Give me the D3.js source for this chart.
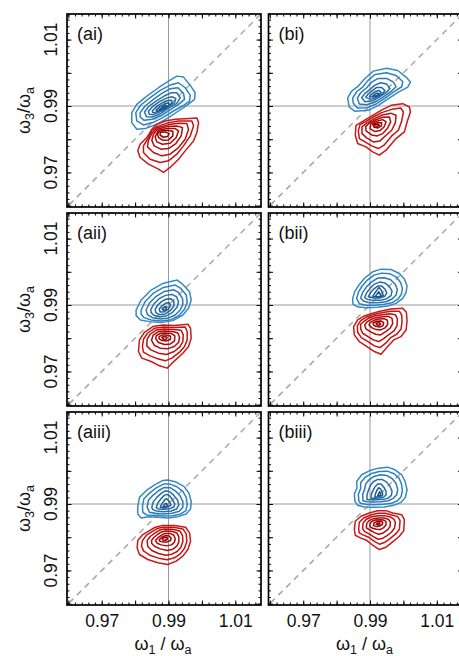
<!DOCTYPE html>
<html><head><meta charset="utf-8">
<script src="https://cdn.jsdelivr.net/npm/d3@7"></script>
<style>body{margin:0;background:#fff}svg{display:block}text{font-family:"Liberation Sans",Arial,Helvetica,sans-serif;fill:#111}</style>
</head><body><svg id="c" width="459" height="656"></svg>
<script>
// ---- data (ω / ωa) ----
const axisDomain = [0.9596, 1.0177];
const majorTicks = [0.96, 0.97, 0.98, 0.99, 1.00, 1.01];
const labelledTicks = [0.97, 0.99, 1.01];
const refLine = 0.99;
const panelLabels = ["(ai)", "(bi)", "(aii)", "(bii)", "(aiii)", "(biii)"];

const ai_blue = [
 [[.9790,.9880],[.9805,.9905],[.9835,.9930],[.9870,.9955],[.9900,.9975],[.9925,.9990],[.9945,.9987],[.9963,.9965],[.9980,.9940],[.9978,.9920],[.9955,.9902],[.9930,.9885],[.9900,.9865],[.9865,.9845],[.9830,.9832],[.9805,.9830],[.9790,.9850]],
 [[.9802,.9880],[.9817,.9903],[.9845,.9925],[.9875,.9947],[.9905,.9963],[.9930,.9970],[.9950,.9955],[.9965,.9933],[.9963,.9915],[.9942,.9900],[.9915,.9885],[.9888,.9868],[.9855,.9851],[.9825,.9843],[.9805,.9855]],
 [[.9815,.9880],[.9830,.9900],[.9855,.9920],[.9880,.9938],[.9905,.9952],[.9928,.9955],[.9945,.9938],[.9948,.9920],[.9930,.9905],[.9907,.9890],[.9882,.9873],[.9852,.9860],[.9827,.9857],[.9815,.9867]],
 [[.9828,.9882],[.9842,.9900],[.9865,.9916],[.9887,.9930],[.9908,.9940],[.9925,.9940],[.9935,.9925],[.9925,.9908],[.9903,.9895],[.9878,.9878],[.9852,.9867],[.9834,.9868]],
 [[.9840,.9884],[.9854,.9900],[.9873,.9913],[.9892,.9923],[.9910,.9928],[.9922,.9923],[.9918,.9910],[.9900,.9898],[.9877,.9883],[.9854,.9874],[.9842,.9875]],
 [[.9852,.9886],[.9865,.9899],[.9880,.9909],[.9895,.9916],[.9909,.9917],[.9910,.9908],[.9897,.9898],[.9877,.9887],[.9858,.9880],[.9852,.9881]],
 [[.9863,.9888],[.9874,.9898],[.9887,.9906],[.9900,.9910],[.9903,.9905],[.9895,.9897],[.9878,.9890],[.9865,.9885]],
 [[.9873,.9890],[.9882,.9897],[.9892,.9903],[.9895,.9898],[.9882,.9892],[.9874,.9888]]
];
const ai_red = [
 [[.9865,.9845],[.9890,.9855],[.9920,.9860],[.9950,.9862],[.9985,.9864],[.9990,.9850],[.9985,.9820],[.9975,.9795],[.9950,.9765],[.9930,.9740],[.9905,.9715],[.9885,.9700],[.9870,.9710],[.9840,.9725],[.9815,.9745],[.9808,.9765],[.9815,.9785],[.9835,.9805],[.9850,.9830]],
 [[.9865,.9838],[.9900,.9850],[.9930,.9855],[.9970,.9855],[.9975,.9840],[.9965,.9810],[.9945,.9780],[.9925,.9755],[.9900,.9735],[.9875,.9730],[.9845,.9740],[.9825,.9760],[.9825,.9780],[.9840,.9805],[.9850,.9825]],
 [[.9865,.9834],[.9900,.9844],[.9930,.9848],[.9955,.9847],[.9960,.9830],[.9950,.9800],[.9930,.9775],[.9905,.9755],[.9880,.9750],[.9855,.9760],[.9837,.9777],[.9840,.9797],[.9850,.9817]],
 [[.9867,.9830],[.9895,.9838],[.9925,.9840],[.9942,.9835],[.9938,.9810],[.9922,.9787],[.9900,.9772],[.9877,.9770],[.9857,.9780],[.9850,.9797],[.9855,.9815]],
 [[.9870,.9827],[.9895,.9832],[.9920,.9832],[.9930,.9825],[.9923,.9805],[.9905,.9788],[.9882,.9785],[.9865,.9792],[.9860,.9807]],
 [[.9872,.9824],[.9895,.9827],[.9913,.9824],[.9913,.9810],[.9900,.9798],[.9883,.9797],[.9870,.9805],[.9867,.9815]],
 [[.9875,.9821],[.9890,.9822],[.9902,.9817],[.9897,.9808],[.9885,.9806],[.9875,.9812]]
];
const bi_blue = [
 [[.9833,.9924],[.9845,.9945],[.9865,.9960],[.9885,.9983],[.9910,1.0005],[.9950,1.0014],[.9983,1.0007],[1.0008,.9987],[1.0021,.9972],[1.0013,.9957],[.9985,.9942],[.9955,.9922],[.9925,.9902],[.9895,.9887],[.9855,.9884],[.9838,.9897]],
 [[.9848,.9924],[.9860,.9943],[.9878,.9957],[.9895,.9978],[.9915,.9995],[.9950,1.0000],[.9978,.9992],[.9998,.9974],[.9995,.9958],[.9972,.9943],[.9945,.9924],[.9920,.9907],[.9892,.9895],[.9862,.9894],[.9850,.9908]],
 [[.9862,.9924],[.9872,.9940],[.9890,.9955],[.9905,.9972],[.9925,.9983],[.9950,.9983],[.9970,.9972],[.9978,.9958],[.9962,.9943],[.9938,.9926],[.9915,.9912],[.9890,.9904],[.9868,.9906]],
 [[.9875,.9925],[.9885,.9938],[.9900,.9950],[.9915,.9963],[.9932,.9970],[.9950,.9966],[.9960,.9953],[.9948,.9940],[.9928,.9927],[.9908,.9916],[.9885,.9913]],
 [[.9887,.9926],[.9895,.9937],[.9908,.9947],[.9920,.9956],[.9935,.9956],[.9945,.9946],[.9936,.9936],[.9920,.9926],[.9902,.9920]],
 [[.9898,.9928],[.9905,.9936],[.9915,.9943],[.9926,.9947],[.9933,.9941],[.9926,.9933],[.9912,.9927]],
 [[.9908,.9930],[.9915,.9936],[.9924,.9939],[.9926,.9934],[.9918,.9930]]
];
const bi_red = [
 [[.9883,.9857],[.9908,.9872],[.9933,.9887],[.9963,.9902],[.9998,.9907],[1.0018,.9897],[1.0021,.9882],[1.0012,.9855],[1.0003,.9822],[.9978,.9802],[.9948,.9767],[.9928,.9752],[.9908,.9762],[.9888,.9777],[.9863,.9787],[.9856,.9812],[.9858,.9842]],
 [[.9888,.9854],[.9910,.9867],[.9935,.9880],[.9965,.9890],[.9992,.9894],[1.0000,.9882],[.9995,.9855],[.9985,.9827],[.9965,.9810],[.9942,.9782],[.9925,.9772],[.9905,.9780],[.9885,.9792],[.9868,.9802],[.9865,.9825],[.9870,.9844]],
 [[.9893,.9851],[.9913,.9862],[.9937,.9873],[.9963,.9878],[.9978,.9872],[.9976,.9850],[.9965,.9827],[.9948,.9812],[.9930,.9795],[.9910,.9792],[.9890,.9804],[.9876,.9817],[.9876,.9837]],
 [[.9898,.9849],[.9916,.9858],[.9938,.9866],[.9958,.9867],[.9962,.9852],[.9952,.9832],[.9938,.9817],[.9922,.9810],[.9905,.9813],[.9888,.9825],[.9887,.9838]],
 [[.9903,.9847],[.9920,.9854],[.9938,.9859],[.9948,.9852],[.9942,.9837],[.9930,.9826],[.9915,.9823],[.9900,.9832]],
 [[.9908,.9845],[.9923,.9850],[.9935,.9850],[.9934,.9840],[.9924,.9834],[.9912,.9836]],
 [[.9913,.9844],[.9924,.9846],[.9928,.9842],[.9922,.9839],[.9915,.9840]]
];
const aii_blue = [
 [[.9803,.9885],[.9818,.9915],[.9848,.9945],[.9883,.9965],[.9926,.9975],[.9943,.9962],[.9963,.9940],[.9968,.9915],[.9960,.9890],[.9943,.9870],[.9913,.9853],[.9878,.9847],[.9843,.9850],[.9816,.9855],[.9803,.9868]],
 [[.9818,.9885],[.9830,.9910],[.9855,.9936],[.9885,.9953],[.9920,.9960],[.9937,.9950],[.9953,.9930],[.9956,.9908],[.9948,.9887],[.9932,.9869],[.9908,.9856],[.9878,.9852],[.9848,.9855],[.9827,.9862],[.9818,.9872]],
 [[.9833,.9885],[.9843,.9906],[.9864,.9927],[.9888,.9941],[.9915,.9946],[.9930,.9938],[.9942,.9920],[.9943,.9902],[.9935,.9885],[.9920,.9870],[.9900,.9861],[.9876,.9858],[.9852,.9862],[.9837,.9871]],
 [[.9847,.9886],[.9856,.9903],[.9872,.9919],[.9891,.9929],[.9910,.9932],[.9924,.9925],[.9930,.9910],[.9926,.9894],[.9912,.9878],[.9895,.9868],[.9874,.9864],[.9856,.9869],[.9848,.9877]],
 [[.9860,.9887],[.9868,.9900],[.9880,.9911],[.9894,.9918],[.9907,.9919],[.9916,.9911],[.9916,.9897],[.9905,.9883],[.9890,.9873],[.9873,.9871],[.9862,.9877]],
 [[.9872,.9888],[.9880,.9897],[.9891,.9905],[.9902,.9907],[.9906,.9899],[.9900,.9888],[.9888,.9880],[.9875,.9879]],
 [[.9881,.9889],[.9889,.9895],[.9895,.9894],[.9893,.9887],[.9885,.9884]]
];
const aii_red = [
 [[.9828,.9818],[.9853,.9835],[.9883,.9840],[.9918,.9838],[.9958,.9842],[.9966,.9830],[.9968,.9800],[.9960,.9775],[.9943,.9755],[.9918,.9732],[.9896,.9710],[.9873,.9717],[.9848,.9730],[.9820,.9740],[.9810,.9760],[.9813,.9795]],
 [[.9837,.9815],[.9858,.9830],[.9885,.9834],[.9918,.9832],[.9950,.9834],[.9956,.9820],[.9956,.9795],[.9948,.9775],[.9933,.9758],[.9910,.9740],[.9890,.9732],[.9868,.9738],[.9845,.9747],[.9825,.9758],[.9822,.9775],[.9825,.9797]],
 [[.9845,.9812],[.9864,.9825],[.9887,.9828],[.9915,.9826],[.9938,.9824],[.9944,.9810],[.9943,.9790],[.9934,.9774],[.9917,.9760],[.9894,.9751],[.9870,.9755],[.9847,.9765],[.9835,.9777],[.9836,.9797]],
 [[.9854,.9809],[.9870,.9820],[.9889,.9822],[.9912,.9820],[.9928,.9816],[.9933,.9803],[.9930,.9787],[.9917,.9775],[.9897,.9768],[.9875,.9770],[.9857,.9779],[.9849,.9794]],
 [[.9863,.9807],[.9876,.9815],[.9891,.9816],[.9909,.9814],[.9919,.9807],[.9918,.9792],[.9906,.9783],[.9888,.9781],[.9870,.9787],[.9862,.9798]],
 [[.9872,.9805],[.9882,.9810],[.9894,.9810],[.9906,.9806],[.9906,.9797],[.9895,.9792],[.9881,.9793],[.9872,.9798]],
 [[.9880,.9803],[.9888,.9805],[.9896,.9803],[.9894,.9798],[.9885,.9797]]
];
const bii_blue = [
 [[.9848,.9920],[.9855,.9942],[.9868,.9962],[.9885,.9982],[.9908,1.0000],[.9933,1.0008],[.9963,1.0007],[.9988,.9995],[1.0003,.9978],[1.0011,.9958],[1.0008,.9938],[.9998,.9920],[.9978,.9905],[.9953,.9897],[.9923,.9893],[.9888,.9892],[.9861,.9895],[.9849,.9903]],
 [[.9860,.9920],[.9866,.9940],[.9877,.9958],[.9892,.9975],[.9912,.9990],[.9935,.9996],[.9960,.9994],[.9980,.9983],[.9992,.9967],[.9997,.9950],[.9994,.9933],[.9984,.9918],[.9966,.9907],[.9943,.9902],[.9916,.9899],[.9888,.9899],[.9868,.9904]],
 [[.9872,.9921],[.9878,.9938],[.9889,.9954],[.9904,.9969],[.9923,.9981],[.9943,.9982],[.9962,.9976],[.9976,.9962],[.9982,.9946],[.9978,.9930],[.9966,.9918],[.9948,.9910],[.9924,.9907],[.9898,.9907],[.9880,.9912]],
 [[.9884,.9923],[.9890,.9937],[.9900,.9950],[.9913,.9963],[.9929,.9969],[.9945,.9966],[.9958,.9956],[.9966,.9942],[.9963,.9928],[.9950,.9919],[.9930,.9914],[.9908,.9914],[.9892,.9917]],
 [[.9895,.9925],[.9901,.9936],[.9911,.9948],[.9923,.9957],[.9935,.9957],[.9945,.9948],[.9950,.9936],[.9944,.9926],[.9929,.9921],[.9911,.9921]],
 [[.9908,.9926],[.9917,.9940],[.9927,.9953],[.9935,.9942],[.9940,.9928],[.9925,.9924]],
 [[.9916,.9926],[.9926,.9940],[.9933,.9928],[.9924,.9925]]
];
const bii_red = [
 [[.9863,.9855],[.9883,.9867],[.9908,.9875],[.9933,.9882],[.9963,.9888],[.9998,.9890],[1.0009,.9878],[1.0011,.9852],[1.0008,.9825],[.9993,.9805],[.9971,.9795],[.9953,.9775],[.9933,.9752],[.9913,.9760],[.9891,.9775],[.9868,.9790],[.9853,.9810],[.9851,.9835]],
 [[.9872,.9853],[.9890,.9864],[.9910,.9871],[.9934,.9877],[.9962,.9881],[.9988,.9881],[.9995,.9870],[.9996,.9850],[.9993,.9828],[.9980,.9812],[.9962,.9802],[.9947,.9785],[.9930,.9772],[.9913,.9777],[.9894,.9790],[.9874,.9802],[.9863,.9818],[.9862,.9837]],
 [[.9882,.9851],[.9897,.9861],[.9914,.9867],[.9935,.9871],[.9959,.9874],[.9976,.9871],[.9982,.9858],[.9981,.9838],[.9972,.9822],[.9956,.9811],[.9940,.9798],[.9926,.9790],[.9910,.9795],[.9894,.9805],[.9878,.9815],[.9872,.9828],[.9872,.9842]],
 [[.9891,.9849],[.9904,.9857],[.9918,.9862],[.9936,.9865],[.9955,.9866],[.9966,.9860],[.9968,.9844],[.9960,.9830],[.9947,.9820],[.9932,.9810],[.9917,.9812],[.9902,.9819],[.9888,.9828],[.9884,.9840]],
 [[.9900,.9847],[.9912,.9854],[.9926,.9858],[.9942,.9859],[.9952,.9854],[.9953,.9842],[.9945,.9831],[.9932,.9825],[.9918,.9826],[.9905,.9832],[.9897,.9840]],
 [[.9909,.9846],[.9920,.9851],[.9933,.9852],[.9941,.9847],[.9939,.9838],[.9929,.9834],[.9917,.9836],[.9910,.9841]],
 [[.9918,.9845],[.9927,.9847],[.9932,.9844],[.9929,.9840],[.9922,.9840]]
];
const aiii_blue = [
 [[.9808,.9893],[.9813,.9920],[.9833,.9940],[.9856,.9956],[.9883,.9971],[.9898,.9972],[.9923,.9966],[.9946,.9953],[.9961,.9933],[.9968,.9908],[.9966,.9885],[.9953,.9870],[.9928,.9862],[.9898,.9858],[.9868,.9860],[.9840,.9862],[.9818,.9858],[.9808,.9870]],
 [[.9822,.9892],[.9826,.9915],[.9843,.9933],[.9862,.9948],[.9885,.9960],[.9905,.9960],[.9925,.9952],[.9943,.9938],[.9953,.9920],[.9956,.9898],[.9952,.9880],[.9937,.9870],[.9913,.9865],[.9885,.9864],[.9857,.9866],[.9835,.9867],[.9823,.9875]],
 [[.9836,.9891],[.9840,.9911],[.9854,.9927],[.9870,.9940],[.9887,.9950],[.9905,.9949],[.9921,.9939],[.9935,.9924],[.9943,.9907],[.9943,.9890],[.9932,.9878],[.9911,.9872],[.9885,.9870],[.9861,.9872],[.9843,.9875]],
 [[.9850,.9890],[.9854,.9906],[.9865,.9920],[.9878,.9932],[.9891,.9940],[.9904,.9937],[.9916,.9926],[.9927,.9912],[.9931,.9897],[.9924,.9885],[.9908,.9879],[.9885,.9877],[.9864,.9879],[.9853,.9883]],
 [[.9863,.9889],[.9868,.9903],[.9877,.9915],[.9887,.9926],[.9895,.9929],[.9903,.9925],[.9912,.9913],[.9919,.9900],[.9916,.9891],[.9904,.9886],[.9885,.9884],[.9869,.9885]],
 [[.9875,.9890],[.9881,.9902],[.9889,.9913],[.9895,.9916],[.9903,.9907],[.9907,.9896],[.9897,.9891],[.9883,.9889]],
 [[.9884,.9892],[.9889,.9900],[.9894,.9902],[.9897,.9895],[.9890,.9892]]
];
const aiii_red = [
 [[.9808,.9790],[.9823,.9808],[.9843,.9820],[.9860,.9830],[.9880,.9835],[.9918,.9835],[.9951,.9830],[.9963,.9813],[.9966,.9788],[.9958,.9763],[.9943,.9743],[.9923,.9728],[.9898,.9718],[.9868,.9723],[.9838,.9733],[.9813,.9748],[.9806,.9768]],
 [[.9822,.9790],[.9834,.9806],[.9851,.9817],[.9866,.9826],[.9883,.9830],[.9915,.9830],[.9943,.9825],[.9953,.9810],[.9955,.9788],[.9948,.9767],[.9935,.9750],[.9918,.9738],[.9896,.9732],[.9870,.9737],[.9844,.9746],[.9825,.9759],[.9819,.9774]],
 [[.9836,.9790],[.9846,.9803],[.9860,.9813],[.9872,.9821],[.9887,.9825],[.9912,.9824],[.9934,.9819],[.9942,.9805],[.9943,.9787],[.9937,.9770],[.9926,.9757],[.9910,.9749],[.9892,.9746],[.9870,.9751],[.9850,.9760],[.9838,.9772]],
 [[.9849,.9790],[.9857,.9800],[.9868,.9809],[.9879,.9816],[.9891,.9819],[.9910,.9818],[.9925,.9813],[.9931,.9801],[.9931,.9786],[.9925,.9773],[.9913,.9764],[.9896,.9760],[.9875,.9765],[.9858,.9773],[.9850,.9781]],
 [[.9861,.9790],[.9868,.9798],[.9877,.9805],[.9887,.9811],[.9906,.9811],[.9916,.9806],[.9920,.9796],[.9918,.9785],[.9909,.9777],[.9894,.9774],[.9878,.9777],[.9866,.9782]],
 [[.9872,.9792],[.9880,.9800],[.9890,.9805],[.9902,.9804],[.9908,.9797],[.9906,.9790],[.9896,.9786],[.9883,.9786],[.9874,.9788]],
 [[.9881,.9795],[.9889,.9800],[.9896,.9799],[.9897,.9794],[.9890,.9791],[.9883,.9792]]
];
const biii_blue = [
 [[.9855,.9908],[.9853,.9930],[.9861,.9948],[.9860,.9968],[.9875,.9988],[.9898,1.0000],[.9925,1.0008],[.9953,1.0011],[.9975,1.0003],[.9995,.9988],[1.0005,.9968],[1.0011,.9943],[1.0006,.9920],[.9993,.9905],[.9971,.9896],[.9943,.9891],[.9913,.9890],[.9883,.9891],[.9863,.9896]],
 [[.9867,.9908],[.9865,.9929],[.9872,.9947],[.9872,.9964],[.9885,.9980],[.9905,.9992],[.9928,.9998],[.9952,.9999],[.9972,.9991],[.9987,.9978],[.9994,.9961],[.9997,.9940],[.9993,.9922],[.9982,.9910],[.9964,.9902],[.9940,.9899],[.9913,.9898],[.9887,.9899],[.9872,.9902]],
 [[.9879,.9910],[.9878,.9928],[.9884,.9945],[.9887,.9960],[.9897,.9973],[.9912,.9983],[.9931,.9988],[.9950,.9986],[.9967,.9976],[.9978,.9962],[.9983,.9944],[.9980,.9928],[.9970,.9917],[.9954,.9910],[.9933,.9907],[.9910,.9906],[.9890,.9907]],
 [[.9891,.9913],[.9891,.9928],[.9896,.9943],[.9901,.9956],[.9910,.9967],[.9923,.9974],[.9936,.9974],[.9950,.9966],[.9960,.9953],[.9966,.9938],[.9964,.9926],[.9955,.9918],[.9940,.9914],[.9922,.9913],[.9904,.9913]],
 [[.9903,.9917],[.9904,.9929],[.9909,.9941],[.9915,.9952],[.9923,.9960],[.9933,.9960],[.9942,.9950],[.9948,.9938],[.9948,.9927],[.9941,.9921],[.9929,.9918],[.9915,.9917]],
 [[.9914,.9921],[.9916,.9930],[.9920,.9940],[.9926,.9949],[.9932,.9945],[.9937,.9935],[.9938,.9927],[.9931,.9923],[.9922,.9921]],
 [[.9923,.9925],[.9926,.9932],[.9929,.9937],[.9932,.9931],[.9931,.9926]]
];
const biii_red = [
 [[.9853,.9823],[.9856,.9848],[.9873,.9863],[.9898,.9873],[.9923,.9880],[.9948,.9880],[.9968,.9873],[.9995,.9868],[1.0003,.9853],[1.0001,.9820],[.9988,.9803],[.9968,.9786],[.9948,.9770],[.9928,.9763],[.9908,.9776],[.9891,.9790],[.9871,.9798],[.9856,.9806]],
 [[.9866,.9824],[.9868,.9845],[.9881,.9858],[.9902,.9867],[.9924,.9872],[.9946,.9872],[.9965,.9867],[.9983,.9862],[.9990,.9850],[.9988,.9824],[.9977,.9810],[.9960,.9796],[.9943,.9784],[.9928,.9779],[.9912,.9788],[.9896,.9800],[.9879,.9807],[.9868,.9813]],
 [[.9878,.9826],[.9879,.9842],[.9889,.9854],[.9906,.9862],[.9925,.9865],[.9944,.9865],[.9961,.9861],[.9972,.9854],[.9976,.9844],[.9973,.9827],[.9964,.9815],[.9950,.9804],[.9936,.9796],[.9924,.9794],[.9910,.9802],[.9896,.9811],[.9884,.9817]],
 [[.9889,.9828],[.9890,.9841],[.9897,.9850],[.9910,.9856],[.9926,.9858],[.9942,.9858],[.9955,.9854],[.9961,.9846],[.9960,.9832],[.9952,.9822],[.9940,.9813],[.9926,.9809],[.9913,.9814],[.9901,.9821]],
 [[.9900,.9831],[.9900,.9841],[.9906,.9848],[.9916,.9852],[.9928,.9853],[.9940,.9852],[.9948,.9847],[.9948,.9837],[.9941,.9829],[.9930,.9823],[.9919,.9824],[.9908,.9827]],
 [[.9910,.9835],[.9912,.9843],[.9920,.9847],[.9930,.9848],[.9938,.9845],[.9937,.9838],[.9930,.9834],[.9920,.9832]],
 [[.9918,.9839],[.9923,.9843],[.9929,.9843],[.9930,.9839],[.9925,.9837]]
];

const panelBlue = [ai_blue, bi_blue, aii_blue, bii_blue, aiii_blue, biii_blue];
const panelRed  = [ai_red,  bi_red,  aii_red,  bii_red,  aiii_red,  biii_red];

// ---- layout ----
const colX = [67, 268.5], rowY = [14, 213, 412], W = 194, H = 193;
const blueCol = d3.interpolateRgb("#348ac6", "#17558d");
const redCol  = d3.interpolateRgb("#cc1818", "#940000");

const svg = d3.select("#c");
const fmt = d3.format(".2f");

panelLabels.forEach((lab, i) => {
  const col = i % 2, row = Math.floor(i / 2);
  const x0 = colX[col], y0 = rowY[row];
  const x = d3.scaleLinear().domain(axisDomain).range([x0, x0 + W]);
  const y = d3.scaleLinear().domain(axisDomain).range([y0 + H, y0]);
  const g = svg.append("g");
  const clipId = "clip" + i;
  svg.append("clipPath").attr("id", clipId).append("rect")
    .attr("x", x0).attr("y", y0).attr("width", W).attr("height", H);
  const inner = g.append("g").attr("clip-path", `url(#${clipId})`);

  // reference lines
  inner.append("line").attr("x1", x(refLine)).attr("x2", x(refLine))
    .attr("y1", y0).attr("y2", y0 + H).attr("stroke", "#9a9a9a").attr("stroke-width", 1);
  inner.append("line").attr("x1", x0).attr("x2", x0 + W)
    .attr("y1", y(refLine)).attr("y2", y(refLine)).attr("stroke", "#9a9a9a").attr("stroke-width", 1);
  // diagonal
  inner.append("line").attr("x1", x(axisDomain[0])).attr("y1", y(axisDomain[0]))
    .attr("x2", x(axisDomain[1])).attr("y2", y(axisDomain[1]))
    .attr("stroke", "#a8a8a8").attr("stroke-width", 1.5).attr("stroke-dasharray", "6,5")
    .attr("stroke-dashoffset", -3);

  const line = d3.line().x(d => x(d[0])).y(d => y(d[1])).curve(d3.curveLinearClosed);
  const drawSet = (rings, colFn) => {
    const n = rings.length;
    inner.append("g").selectAll("path").data(rings).join("path")
      .attr("d", line).attr("fill", "none")
      .attr("stroke", (d, k) => colFn(n > 1 ? k / (n - 1) : 0))
      .attr("stroke-width", 1.5).attr("stroke-linejoin", "round");
  };
  drawSet(panelBlue[i], blueCol);
  drawSet(panelRed[i], redCol);

  // ticks
  const minor = x.ticks(30);
  const addAxis = (gen, tr) => {
    const a = g.append("g").attr("transform", tr).call(gen);
    a.select(".domain").remove();
    a.selectAll("line").attr("stroke", "#000").attr("stroke-width", 1);
    return a;
  };
  const showX = row === 2, showY = col === 0;
  const bx = addAxis(d3.axisBottom(x).tickValues(majorTicks).tickSize(-4.5).tickPadding(9.5)
    .tickFormat(d => showX && labelledTicks.some(v => Math.abs(v - d) < 1e-9) ? fmt(d) : ""), `translate(0,${y0 + H})`);
  bx.selectAll("text").attr("font-size", 17.5).attr("fill", "#111")
    .attr("font-family", '"Liberation Sans",Arial,sans-serif');
  addAxis(d3.axisBottom(x).tickValues(minor).tickSize(-2.5).tickFormat(""), `translate(0,${y0 + H})`);
  addAxis(d3.axisTop(x).tickValues(majorTicks).tickSize(-4.5).tickFormat(""), `translate(0,${y0})`);
  addAxis(d3.axisTop(x).tickValues(minor).tickSize(-2.5).tickFormat(""), `translate(0,${y0})`);
  addAxis(d3.axisLeft(y).tickValues(majorTicks).tickSize(-4.5).tickFormat(""), `translate(${x0},0)`);
  addAxis(d3.axisLeft(y).tickValues(minor).tickSize(-2.5).tickFormat(""), `translate(${x0},0)`);
  addAxis(d3.axisRight(y).tickValues(majorTicks).tickSize(-4.5).tickFormat(""), `translate(${x0 + W},0)`);
  addAxis(d3.axisRight(y).tickValues(minor).tickSize(-2.5).tickFormat(""), `translate(${x0 + W},0)`);

  // frame
  g.append("rect").attr("x", x0).attr("y", y0).attr("width", W).attr("height", H)
    .attr("fill", "none").attr("stroke", "#000").attr("stroke-width", 1.7);

  // panel label
  g.append("text").attr("x", x0 + 10).attr("y", y0 + 26).attr("font-size", 18).text(lab);

  if (showY) {
    labelledTicks.forEach(v => {
      g.append("text").attr("transform", `translate(56.5,${y(v)}) rotate(-90)`)
        .attr("text-anchor", "middle").attr("font-size", 17.5).text(fmt(v));
    });
    const t = g.append("text").attr("transform", `translate(30,${y0 + H / 2}) rotate(-90)`)
      .attr("text-anchor", "middle").attr("font-size", 18);
    t.append("tspan").text("ω");
    t.append("tspan").attr("dy", 4).attr("font-size", 12.5).text("3");
    t.append("tspan").attr("dy", -4).text("/ω");
    t.append("tspan").attr("dy", 4).attr("font-size", 12.5).text("a");
  }
  if (showX) {
    const t = g.append("text").attr("x", x0 + W / 2 - 1).attr("y", 650)
      .attr("text-anchor", "middle").attr("font-size", 18);
    t.append("tspan").text("ω");
    t.append("tspan").attr("dy", 4).attr("font-size", 12.5).text("1");
    t.append("tspan").attr("dy", -4).text(" / ω");
    t.append("tspan").attr("dy", 4).attr("font-size", 12.5).text("a");
  }
});
</script></body></html>
